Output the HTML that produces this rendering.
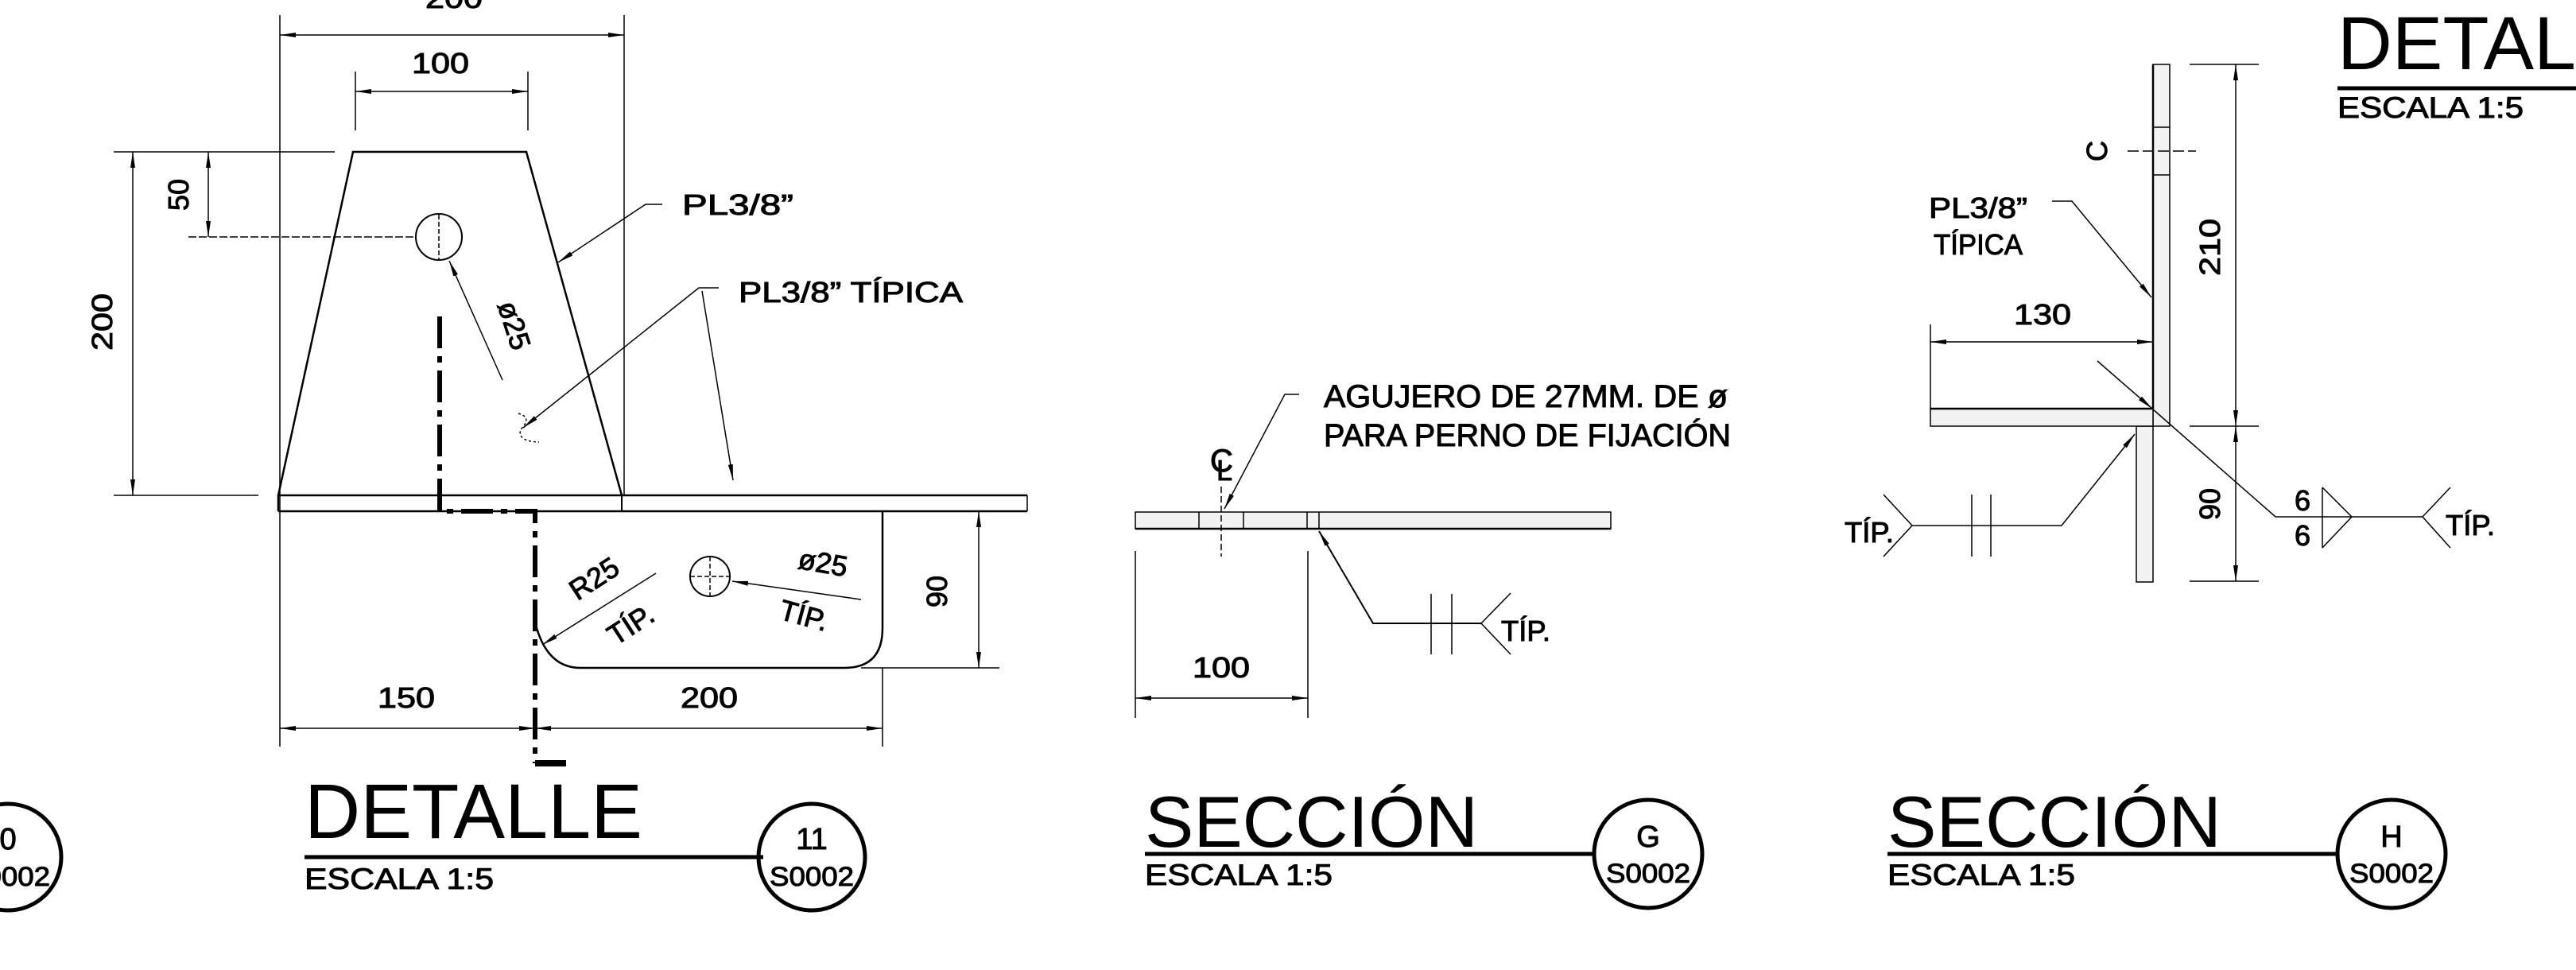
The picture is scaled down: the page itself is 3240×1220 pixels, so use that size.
<!DOCTYPE html>
<html><head><meta charset="utf-8"><style>
html,body{margin:0;padding:0;background:#fff;}
svg{display:block;}
text{font-family:"Liberation Sans",sans-serif;fill:#000;}
.s text{stroke:#000;stroke-width:1;}
</style></head><body>
<svg width="3240" height="1220" viewBox="0 0 3240 1220" xmlns="http://www.w3.org/2000/svg">
<defs>
<marker id="a" viewBox="0 0 20 6" refX="20" refY="3" markerWidth="20" markerHeight="6" markerUnits="userSpaceOnUse" orient="auto"><path d="M0,0 L20,3 L0,6 z" fill="#000"/></marker>
<marker id="as" viewBox="0 0 20 6" refX="0" refY="3" markerWidth="20" markerHeight="6" markerUnits="userSpaceOnUse" orient="auto"><path d="M20,0 L0,3 L20,6 z" fill="#000"/></marker>
</defs>
<g stroke="#000" fill="none" stroke-width="1.5">
<line x1="352" y1="19" x2="352" y2="939"/>
<line x1="785" y1="19" x2="785" y2="623"/>
<line x1="447" y1="90" x2="447" y2="164"/>
<line x1="664" y1="90" x2="664" y2="164"/>
<line x1="143" y1="191" x2="421" y2="191"/>
<line x1="143" y1="623" x2="325" y2="623"/>
<line x1="237" y1="298" x2="523" y2="298" stroke-dasharray="10,3"/>
<line x1="352" y1="44" x2="785" y2="44" marker-start="url(#as)" marker-end="url(#a)"/>
<line x1="447" y1="115" x2="664" y2="115" marker-start="url(#as)" marker-end="url(#a)"/>
<line x1="167" y1="191" x2="167" y2="623" marker-start="url(#as)" marker-end="url(#a)"/>
<line x1="262" y1="191" x2="262" y2="298" marker-start="url(#as)" marker-end="url(#a)"/>
<path d="M444,191 L662,191 L782,623 L350,623 Z" stroke-width="2.5"/>
<line x1="350" y1="643" x2="1292" y2="643" stroke-width="2.5"/>
<line x1="782" y1="623" x2="1292" y2="623" stroke-width="2.5"/>
<line x1="350" y1="623" x2="350" y2="643" stroke-width="2.5"/>
<line x1="782" y1="623" x2="782" y2="643" stroke-width="2"/>
<line x1="1292" y1="623" x2="1292" y2="643"/>
<circle cx="552" cy="298" r="29" stroke-width="2"/>
<line x1="552" y1="270" x2="552" y2="326" stroke-dasharray="6,3"/>
<line x1="632" y1="478" x2="565" y2="328" marker-end="url(#a)"/>
<polyline points="833,257 812,257 702,330" marker-end="url(#a)"/>
<polyline points="904,362 879,362 658,538" marker-end="url(#a)"/>
<line x1="883" y1="366" x2="922" y2="604" marker-end="url(#a)"/>
<path d="M652,520 Q670,525 655,540 Q650,555 678,556" stroke-dasharray="3,3"/>
<polyline points="553,398 553,643 673,643 673,960" stroke-width="6" stroke-dasharray="40,10,8,10"/>
<line x1="673" y1="960" x2="712" y2="960" stroke-width="8"/>
<path d="M675,790 Q690,840 730,840 L1062,840 Q1110,840 1110,790 L1110,643" stroke-width="2.5"/>
<circle cx="893" cy="725" r="25" stroke-width="2"/>
<line x1="868" y1="725" x2="918" y2="725" stroke-dasharray="6,3"/>
<line x1="893" y1="700" x2="893" y2="750" stroke-dasharray="6,3"/>
<line x1="1083" y1="754" x2="921" y2="731" marker-end="url(#a)"/>
<line x1="825" y1="721" x2="682" y2="811" marker-end="url(#a)"/>
<line x1="1083" y1="840" x2="1257" y2="840"/>
<line x1="1110" y1="840" x2="1110" y2="939"/>
<line x1="1231" y1="643" x2="1231" y2="840" marker-start="url(#as)" marker-end="url(#a)"/>
<line x1="352" y1="916" x2="673" y2="916" marker-start="url(#as)" marker-end="url(#a)"/>
<line x1="673" y1="916" x2="1110" y2="916" marker-start="url(#as)" marker-end="url(#a)"/>
<line x1="383" y1="1078" x2="960" y2="1078" stroke-width="5"/>
<circle cx="1021" cy="1078" r="67" stroke-width="5"/>
<circle cx="10" cy="1078" r="67" stroke-width="5"/>

<rect x="1428" y="644" width="598" height="21" fill="#f2f2f2" stroke-width="1.5"/>
<line x1="1428" y1="665" x2="2026" y2="665" stroke-width="2.5"/>
<line x1="1508" y1="644" x2="1508" y2="665"/>
<line x1="1564" y1="644" x2="1564" y2="665"/>
<line x1="1644" y1="644" x2="1644" y2="665"/>
<line x1="1659" y1="644" x2="1659" y2="665"/>
<line x1="1536" y1="612" x2="1536" y2="700" stroke-dasharray="8,4"/>
<polyline points="1634,496 1616,496 1540,640" marker-end="url(#a)"/>
<polyline points="1863,784 1727,784 1659,668" marker-end="url(#a)" stroke-width="2"/>
<line x1="1800" y1="747" x2="1800" y2="823"/>
<line x1="1826" y1="747" x2="1826" y2="823"/>
<polyline points="1900,746 1863,784 1900,823"/>
<line x1="1428" y1="693" x2="1428" y2="903"/>
<line x1="1645" y1="693" x2="1645" y2="903"/>
<line x1="1428" y1="878" x2="1645" y2="878" marker-start="url(#as)" marker-end="url(#a)"/>
<line x1="1440" y1="1074" x2="2005" y2="1074" stroke-width="5"/>
<circle cx="2073" cy="1074" r="68" stroke-width="5"/>

<rect x="2708" y="81" width="21" height="455" fill="#f2f2f2"/>
<rect x="2687" y="536" width="21" height="196" fill="#f2f2f2"/>
<rect x="2428" y="514" width="280" height="22" fill="#f2f2f2"/>
<line x1="2428" y1="514" x2="2708" y2="514" stroke-width="2.5"/>
<line x1="2708" y1="81" x2="2708" y2="514" stroke-width="2.5"/>
<line x1="2708" y1="160" x2="2729" y2="160"/>
<line x1="2708" y1="220" x2="2729" y2="220"/>
<line x1="2676" y1="190" x2="2762" y2="190" stroke-dasharray="14,5"/>
<line x1="2754" y1="81" x2="2841" y2="81"/>
<line x1="2754" y1="536" x2="2841" y2="536"/>
<line x1="2754" y1="731" x2="2841" y2="731"/>
<line x1="2812" y1="81" x2="2812" y2="536" marker-start="url(#as)" marker-end="url(#a)"/>
<line x1="2812" y1="536" x2="2812" y2="731" marker-start="url(#as)" marker-end="url(#a)"/>
<line x1="2428" y1="408" x2="2428" y2="514"/>
<line x1="2428" y1="430" x2="2708" y2="430" marker-start="url(#as)" marker-end="url(#a)"/>
<polyline points="2581,253 2606,253 2706,374" marker-end="url(#a)"/>
<line x1="2638" y1="454" x2="2707" y2="514" marker-end="url(#a)"/>
<polyline points="2707,514 2862,650 3047,650"/>
<line x1="2921" y1="613" x2="2921" y2="689"/>
<polyline points="2921,613 2958,650 2921,689"/>
<polyline points="3082,613 3047,650 3082,689"/>
<polyline points="2405,661 2593,661 2685,546" marker-end="url(#a)"/>
<line x1="2480" y1="622" x2="2480" y2="700"/>
<line x1="2504" y1="622" x2="2504" y2="700"/>
<polyline points="2369,622 2405,661 2369,700"/>
<line x1="2374" y1="1074" x2="2940" y2="1074" stroke-width="5"/>
<circle cx="3008" cy="1074" r="68" stroke-width="5"/>
<line x1="2940" y1="111" x2="3240" y2="111" stroke-width="5"/>
</g>

<g font-size="36" class="s">
<text x="571" y="10" text-anchor="middle" textLength="72" lengthAdjust="spacingAndGlyphs">200</text>
<text x="554" y="92" text-anchor="middle" textLength="72" lengthAdjust="spacingAndGlyphs">100</text>
<text transform="translate(141,405) rotate(-90)" text-anchor="middle" textLength="72" lengthAdjust="spacingAndGlyphs">200</text>
<text transform="translate(237,245) rotate(-90)" text-anchor="middle">50</text>
<text transform="translate(635,413) rotate(72)" text-anchor="middle">ø25</text>
<text x="858" y="270" textLength="140" lengthAdjust="spacingAndGlyphs">PL3/8”</text>
<text x="929" y="380" textLength="282" lengthAdjust="spacingAndGlyphs">PL3/8”  TÍPICA</text>
<text transform="translate(1033,720) rotate(10)" text-anchor="middle">ø25</text>
<text transform="translate(1008,786) rotate(15)" text-anchor="middle">TÍP.</text>
<text transform="translate(754,738) rotate(-33)" text-anchor="middle">R25</text>
<text transform="translate(800,796) rotate(-33)" text-anchor="middle">TÍP.</text>
<text transform="translate(1191,744) rotate(-90)" text-anchor="middle">90</text>
<text x="511" y="890" text-anchor="middle" textLength="72" lengthAdjust="spacingAndGlyphs">150</text>
<text x="892" y="890" text-anchor="middle" textLength="72" lengthAdjust="spacingAndGlyphs">200</text>
<text x="1021" y="1068" text-anchor="middle" font-size="38">11</text>
<text x="1021" y="1114" text-anchor="middle" font-size="34" textLength="106" lengthAdjust="spacingAndGlyphs">S0002</text>
<text x="10" y="1068" text-anchor="middle" font-size="38">0</text>
<text x="10" y="1114" text-anchor="middle" font-size="34" textLength="106" lengthAdjust="spacingAndGlyphs">S0002</text>

<text x="1665" y="512" font-size="40" textLength="508" lengthAdjust="spacingAndGlyphs">AGUJERO DE 27MM. DE ø</text>
<text x="1665" y="561" font-size="40" textLength="512" lengthAdjust="spacingAndGlyphs">PARA PERNO DE FIJACIÓN</text>
<text x="1522" y="593" font-size="40">C</text>
<text x="1530" y="604" font-size="36">L</text>
<text x="1888" y="806" font-size="36" textLength="62" lengthAdjust="spacingAndGlyphs">TÍP.</text>
<text x="1536" y="852" text-anchor="middle" textLength="72" lengthAdjust="spacingAndGlyphs">100</text>
<text x="2073" y="1065" text-anchor="middle" font-size="38">G</text>
<text x="2073" y="1110" text-anchor="middle" font-size="34" textLength="106" lengthAdjust="spacingAndGlyphs">S0002</text>

<text transform="translate(2650,190) rotate(-90)" text-anchor="middle" font-size="36">C</text>
<text x="2488" y="274" text-anchor="middle" textLength="124" lengthAdjust="spacingAndGlyphs">PL3/8”</text>
<text x="2488" y="320" text-anchor="middle" textLength="112" lengthAdjust="spacingAndGlyphs">TÍPICA</text>
<text transform="translate(2792,311) rotate(-90)" text-anchor="middle" textLength="72" lengthAdjust="spacingAndGlyphs">210</text>
<text transform="translate(2792,634) rotate(-90)" text-anchor="middle">90</text>
<text x="2569" y="408" text-anchor="middle" textLength="72" lengthAdjust="spacingAndGlyphs">130</text>
<text x="2896" y="642" text-anchor="middle">6</text>
<text x="2896" y="686" text-anchor="middle">6</text>
<text x="3076" y="673" textLength="62" lengthAdjust="spacingAndGlyphs">TÍP.</text>
<text x="2320" y="682" textLength="62" lengthAdjust="spacingAndGlyphs">TÍP.</text>
<text x="3008" y="1065" text-anchor="middle" font-size="38">H</text>
<text x="3008" y="1110" text-anchor="middle" font-size="34" textLength="106" lengthAdjust="spacingAndGlyphs">S0002</text>
<text x="383" y="1118" font-size="37" textLength="238" lengthAdjust="spacingAndGlyphs">ESCALA 1:5</text>
<text x="1440" y="1113" font-size="37" textLength="236" lengthAdjust="spacingAndGlyphs">ESCALA 1:5</text>
<text x="2374" y="1113" font-size="37" textLength="236" lengthAdjust="spacingAndGlyphs">ESCALA 1:5</text>
<text x="2940" y="148" font-size="37" textLength="234" lengthAdjust="spacingAndGlyphs">ESCALA 1:5</text>
</g>

<text x="383" y="1054" font-size="97" textLength="425" lengthAdjust="spacingAndGlyphs">DETALLE</text>
<text x="1440" y="1065" font-size="91" textLength="419" lengthAdjust="spacingAndGlyphs">SECCIÓN</text>
<text x="2374" y="1065" font-size="91" textLength="420" lengthAdjust="spacingAndGlyphs">SECCIÓN</text>
<text x="2940" y="87" font-size="95" textLength="300" lengthAdjust="spacingAndGlyphs">DETAL</text>
</svg>
</body></html>
